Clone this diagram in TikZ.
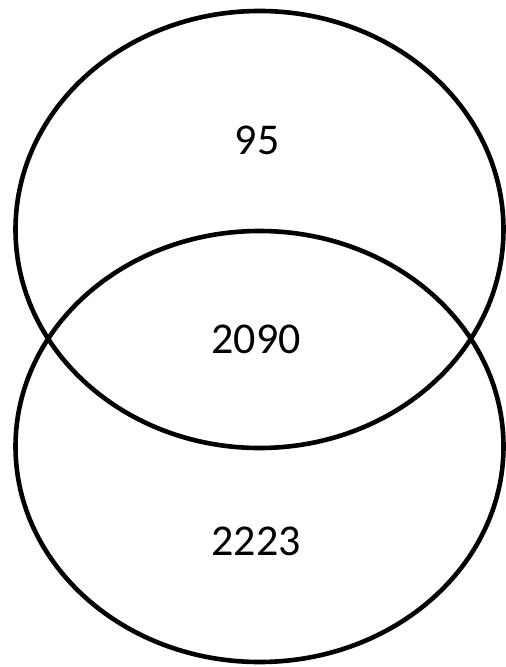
\documentclass[tikz,border=0pt]{standalone}
\usepackage{fontspec}
\setmainfont{Carlito}
\usetikzlibrary{shapes.geometric,positioning}

\begin{document}
\begin{tikzpicture}[
  x=0.5pt, y=-0.5pt,
  set/.style={ellipse, draw=black, line width=2.3pt, inner sep=0pt,
              minimum width=244pt},
  count/.style={anchor=base, inner sep=0pt, font=\fontsize{22}{26}\selectfont},
]
\useasboundingbox (0,0) rectangle (506,667);

\node[set, minimum height=218.5pt] (upper) at (259.5,229.5) {};
\node[set, minimum height=215.5pt] (lower) at (259.5,446.5) {};

\node[count] (onlyupper) at (257,155) {95};
\node[count] (both)      at (256,353) {2090};
\node[count] (onlylower) at (256,555) {2223};

\end{tikzpicture}
\end{document}
